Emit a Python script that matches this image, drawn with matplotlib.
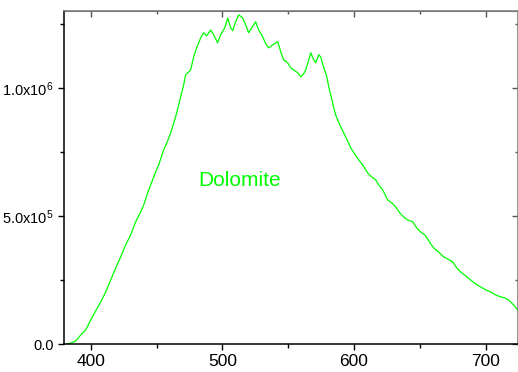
import matplotlib.pyplot as plt
import numpy as np
from matplotlib.ticker import MultipleLocator, FixedLocator

plt.rcParams['font.family'] = ['Liberation Sans', 'DejaVu Sans']
plt.rcParams['mathtext.default'] = 'regular'

# values (wavelength in nm, intensity in units of 1e4 counts)
wavelength = [381.5, 384.6, 388.4, 392.2, 396.0, 399.8, 403.6, 407.4, 411.2, 415.0,
              418.8, 422.6, 426.4, 430.2, 434.0, 437.8, 440.1, 443.1, 445.4, 449.2,
              451.5, 455.3, 458.3, 460.6, 464.4, 466.7, 468.2, 470.5, 472.0, 474.3,
              475.8, 478.1, 480.4, 481.9, 483.4, 485.7, 488.0, 491.0, 493.3, 496.3,
              498.6, 501.7, 504.0, 506.2, 507.8, 510.0, 512.3, 515.4, 517.6, 519.9,
              522.2, 525.2, 527.5, 530.6, 532.9, 535.1, 538.2, 542.0, 544.3, 546.5,
              549.6, 551.9, 554.1, 557.2, 559.5, 561.7, 563.3, 565.6, 567.1, 569.4,
              570.9, 573.2, 574.7, 577.0, 579.2, 580.8, 582.3, 584.6, 586.1, 587.6,
              589.9, 592.2, 594.4, 597.5, 600.5, 603.6, 606.6, 610.4, 613.5, 616.5,
              618.8, 621.8, 624.1, 625.6, 628.7, 631.7, 634.8, 637.8, 640.8, 644.6,
              647.7, 650.7, 653.8, 656.0, 658.3, 660.6, 664.4, 668.2, 671.3, 675.1,
              678.1, 681.1, 684.9, 688.7, 692.5, 696.3, 700.2, 704.0, 707.8, 711.6,
              714.6, 717.6, 720.7, 724.5]
intensity = [0.0, 0.39, 1.17, 3.51, 5.47, 9.37, 12.9, 16.4, 20.3, 25.0,
             29.7, 34.0, 38.7, 42.6, 47.7, 51.6, 54.3, 59.0, 62.1, 67.2,
             69.9, 75.8, 79.3, 82.4, 88.7, 93.4, 96.5, 101.2, 105.1, 106.2,
             107.0, 112.1, 115.6, 117.6, 119.5, 121.5, 120.3, 122.6, 120.7, 117.6,
             120.7, 123.4, 127.3, 123.4, 122.3, 125.8, 128.5, 127.3, 124.6, 121.5,
             123.4, 125.8, 122.6, 119.9, 117.2, 115.6, 116.8, 118.0, 114.1, 110.9,
             109.8, 107.8, 107.0, 105.9, 104.3, 105.5, 107.0, 110.9, 113.7, 110.9,
             109.8, 112.9, 112.1, 107.8, 104.7, 100.4, 97.3, 92.2, 89.4, 87.5,
             84.8, 82.4, 80.1, 76.6, 74.2, 71.9, 69.9, 66.8, 65.2, 64.1,
             62.1, 60.2, 57.8, 56.2, 55.1, 53.5, 51.2, 49.6, 48.4, 47.7,
             45.3, 43.7, 42.6, 41.0, 39.1, 37.5, 35.9, 34.0, 33.2, 32.0,
             29.7, 28.1, 26.6, 25.0, 23.4, 22.3, 21.1, 20.3, 19.1, 18.4,
             18.0, 17.2, 15.6, 13.3]

y_ticks = [0.0, 5.0e5, 1.0e6]
y_tick_labels = ['0.0', '5.0x10$^{5}$', '1.0x10$^{6}$']
x_ticks = [400, 500, 600, 700]

fig = plt.figure(figsize=(5.18, 3.72), dpi=100)
ax = fig.add_axes([64 / 518, 1 - 344 / 372, 454 / 518, 333 / 372])

ax.plot(wavelength, np.array(intensity) * 1e4, color='#00ff00', lw=0.9)
ax.text(513, 6.4e5, 'Dolomite', color='#00ff00', fontsize=15, ha='center', va='center')

ax.set_xlim(379.5, 724.7)
ax.set_ylim(0, 1.30e6)

ax.xaxis.set_major_locator(FixedLocator(x_ticks))
ax.xaxis.set_minor_locator(MultipleLocator(50))
ax.set_yticks(y_ticks)
ax.set_yticklabels(y_tick_labels)
ax.yaxis.set_minor_locator(MultipleLocator(2.5e5))

ax.tick_params(which='major', direction='out', length=4.5, width=1, color='black')
ax.tick_params(which='minor', direction='out', length=2.8, width=1, color='black')
ax.tick_params(axis='x', labelsize=12.5, pad=3)
ax.tick_params(axis='y', labelsize=10.5, pad=3)

for side in ['left', 'bottom']:
    ax.spines[side].set_color('black')
    ax.spines[side].set_linewidth(1.1)
for side in ['top', 'right']:
    ax.spines[side].set_color('#777777')
    ax.spines[side].set_linewidth(1.1)

top = ax.secondary_xaxis('top')
top.xaxis.set_major_locator(FixedLocator(x_ticks))
top.xaxis.set_minor_locator(MultipleLocator(50))
top.tick_params(which='major', direction='in', length=4.5, width=1, color='#555555', labeltop=False)
top.tick_params(which='minor', direction='in', length=2.5, width=1, color='#555555')
top.spines['top'].set_color('#777777')

right = ax.secondary_yaxis('right')
right.set_yticks(y_ticks)
right.yaxis.set_minor_locator(MultipleLocator(2.5e5))
right.tick_params(which='major', direction='in', length=4.5, width=1, color='#555555', labelright=False)
right.tick_params(which='minor', direction='in', length=2.5, width=1, color='#555555')
right.spines['right'].set_color('#777777')

plt.savefig('out.png', dpi=100)
